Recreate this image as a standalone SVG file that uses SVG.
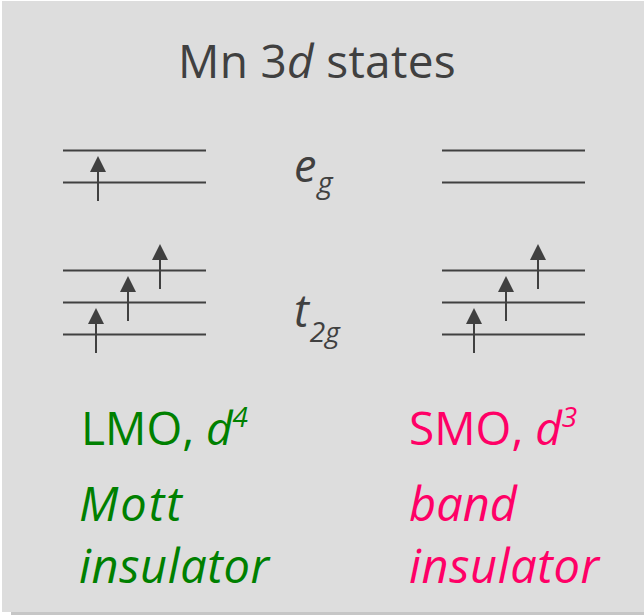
<svg xmlns="http://www.w3.org/2000/svg" width="644" height="615" viewBox="0 0 644 615">
<style>
.lvl{stroke:#404040;stroke-width:2;fill:none}
.arr{stroke:#404040;stroke-width:2;fill:none}
.hd{fill:#404040}
text{font-family:"Open Sans","Noto Sans",sans-serif}
.t{fill:#404040}
.g{fill:#008000}
.p{fill:#FF0066}
.i{font-style:italic}
</style>
<defs>
<marker id="ah" markerWidth="16" markerHeight="16" viewBox="0 0 16 16" refX="0" refY="8" orient="auto" markerUnits="userSpaceOnUse">
<path d="M0,0 L16,8 L0,16 Z" class="hd"/>
</marker>
</defs>
<rect x="0" y="0" width="644" height="615" fill="#ffffff"/>
<rect x="11" y="612" width="633" height="3" fill="#c6c6c6"/>
<rect x="2" y="1" width="642" height="611" fill="#dddddd"/>
<g id="title"><text class="t" x="178" y="78" font-size="46" letter-spacing="0.3">Mn 3<tspan class="i">d</tspan> states</text></g>
<g id="eg-label"><text class="t i" x="294" y="182" font-size="45">e<tspan font-size="29" dy="11" dx="1">g</tspan></text></g>
<g id="t2g-label"><text class="t i" x="294" y="327" font-size="45">t<tspan font-size="28" dy="15" dx="1">2g</tspan></text></g>
<g id="left-levels">
<line class="lvl" x1="63" y1="150.5" x2="206" y2="150.5"/>
<line class="lvl" x1="63" y1="182.5" x2="206" y2="182.5"/>
<line class="lvl" x1="63" y1="270.5" x2="206" y2="270.5"/>
<line class="lvl" x1="63" y1="302.5" x2="206" y2="302.5"/>
<line class="lvl" x1="63" y1="334.5" x2="206" y2="334.5"/>
</g>
<g id="right-levels">
<line class="lvl" x1="442" y1="150.5" x2="585" y2="150.5"/>
<line class="lvl" x1="442" y1="182.5" x2="585" y2="182.5"/>
<line class="lvl" x1="442" y1="270.5" x2="585" y2="270.5"/>
<line class="lvl" x1="442" y1="302.5" x2="585" y2="302.5"/>
<line class="lvl" x1="442" y1="334.5" x2="585" y2="334.5"/>
</g>
<g id="connectors">
<line class="arr" x1="98" y1="201" x2="98" y2="172" marker-end="url(#ah)"/>
<line class="arr" x1="96" y1="353" x2="96" y2="324" marker-end="url(#ah)"/>
<line class="arr" x1="128" y1="321" x2="128" y2="292" marker-end="url(#ah)"/>
<line class="arr" x1="160" y1="289" x2="160" y2="260" marker-end="url(#ah)"/>
<line class="arr" x1="474" y1="353" x2="474" y2="324" marker-end="url(#ah)"/>
<line class="arr" x1="506" y1="321" x2="506" y2="292" marker-end="url(#ah)"/>
<line class="arr" x1="538" y1="289" x2="538" y2="260" marker-end="url(#ah)"/>
</g>
<g id="lmo">
<text class="g" x="81" y="445" font-size="46">LMO, <tspan class="i">d</tspan><tspan class="i" font-size="28" dy="-18">4</tspan></text>
<text class="g i" x="79" y="521" font-size="47" letter-spacing="2">Mott</text>
<text class="g i" x="79" y="583" font-size="47" letter-spacing="0.6">insulator</text>
</g>
<g id="smo">
<text class="p" x="409" y="445" font-size="46">SMO, <tspan class="i">d</tspan><tspan class="i" font-size="28" dy="-18">3</tspan></text>
<text class="p i" x="409" y="521" font-size="47">band</text>
<text class="p i" x="409" y="583" font-size="47" letter-spacing="0.6">insulator</text>
</g>
</svg>
